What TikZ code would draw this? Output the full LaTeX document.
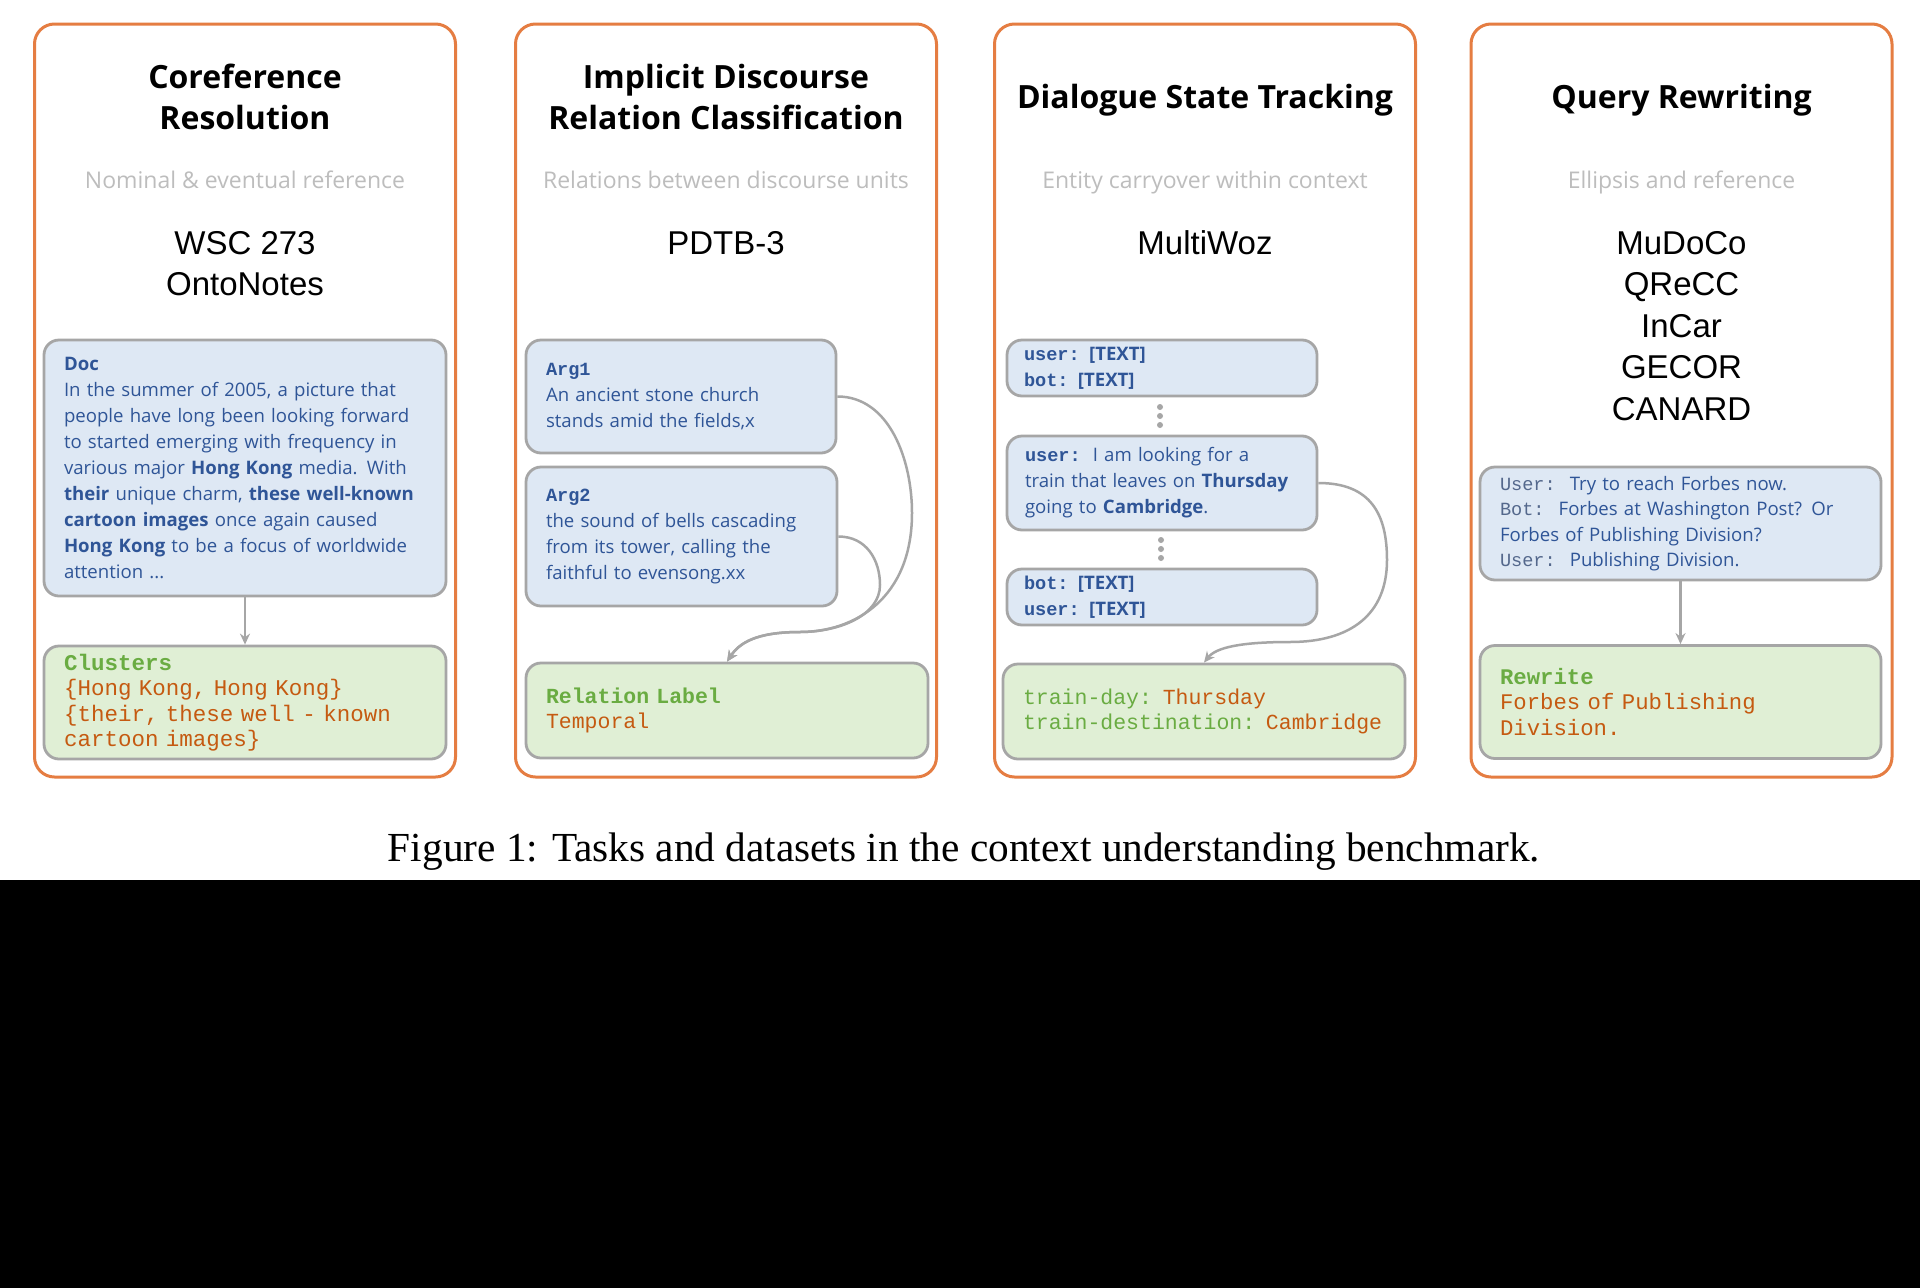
\documentclass[tikz,border=0pt]{standalone}
\usepackage{fontspec}
\IfFontExistsTF{Noto Sans Bold}
    {\setmainfont{Noto Sans}[BoldFont={Noto Sans Bold}]}
    {\IfFontExistsTF{Open Sans Bold}
        {\setmainfont{Open Sans}[BoldFont={Open Sans Bold}]}
        {\setmainfont{Carlito}}}
\setmonofont{Liberation Mono}
\newfontfamily\dsfont{Liberation Sans}
\newfontfamily\capfont{Liberation Serif}
\usetikzlibrary{arrows.meta}

\definecolor{frameorange}{RGB}{229,125,66}
\definecolor{cardline}{RGB}{166,166,166}
\definecolor{inblue}{RGB}{222,232,244}
\definecolor{outgreen}{RGB}{224,239,213}
\definecolor{deepblue}{RGB}{47,85,151}
\definecolor{keygreen}{RGB}{106,172,66}
\definecolor{valorange}{RGB}{197,90,17}
\definecolor{subgray}{RGB}{189,189,189}
\definecolor{spkgray}{RGB}{84,104,140}

\newcommand{\spk}[1]{{\ttfamily\bfseries #1}}

\begin{document}
\begin{tikzpicture}[
        x=1pt, y=-1pt,
        panel/.style={draw=frameorange, line width=3pt, rounded corners=20pt, minimum width=421pt, minimum height=753pt},
        tasktitle/.style={font=\fontsize{32}{41}\selectfont\bfseries, align=center},
        tasksub/.style={font=\fontsize{23}{26}\selectfont, text=subgray, anchor=base},
        dataset/.style={font=\dsfont\fontsize{33}{41.5}\selectfont, align=center},
        card/.style={draw=cardline, line width=2.8pt, rounded corners=15pt, inner xsep=20pt, align=left},
        inbox/.style={card, fill=inblue, text=deepblue, font=\fontsize{18.6}{26}\selectfont},
        outbox/.style={card, fill=outgreen, text=valorange, font=\ttfamily\fontsize{21.5}{25.5}\selectfont},
        link/.style={draw=cardline, line width=2.5pt, -{Stealth[length=11pt,width=10pt]}},
        dot/.style={fill=cardline}
    ]

    % page
    \useasboundingbox (0,0) rectangle (1920,1288);
    \fill[white] (0,0) rectangle (1920,880);
    \fill[black] (0,880) rectangle (1920,1288);

    % Frames
    \foreach \i/\x in {1/245,2/726,3/1205,4/1681.5}
        \node[panel] (p\i) at (\x,400.5) {};

    % Coreference Resolution
    \node[tasktitle] (t1) at (245,97) {Coreference\\Resolution};
    \node[tasksub] (s1) at (245,188) {Nominal \& eventual reference};
    \node[dataset] (d1) at (245,263.5) {WSC 273\\OntoNotes};
    \node[inbox, text width=362pt, minimum height=256pt] (doc) at (245,468) {\textbf{Doc}\\
        In the summer of 2005, a picture that\\
        people have long been looking forward\\
        to started emerging with frequency in\\
        various major \textbf{Hong Kong} media. With\\
        \textbf{their} unique charm, \textbf{these well-known}\\
        \textbf{cartoon images} once again caused\\
        \textbf{Hong Kong} to be a focus of worldwide\\
        attention ...};
    \node[outbox, text width=362pt, minimum height=113pt, font=\ttfamily\fontsize{22.5}{25.5}\selectfont] (clus) at (245,702.5) {\textcolor{keygreen}{\bfseries Clusters}\\
        \{Hong Kong, Hong Kong\}\\
        \{their, these well - known\\
        cartoon images\}};
    \draw[link] (doc.south) -- (clus.north);

    % Implicit Discourse Relation Classification
    \node[tasktitle] (t2) at (726,97) {Implicit Discourse\\Relation Classification};
    \node[tasksub] (s2) at (726,188) {Relations between discourse units};
    \node[dataset] (d2) at (726,243) {PDTB-3};
    \node[inbox, text width=270pt, minimum height=113pt] (a1) at (681,396.5) {\spk{Arg1}\\
        An ancient stone church\\
        stands amid the fields,x};
    \node[inbox, text width=271pt, minimum height=139pt] (a2) at (681.5,536.5) {\spk{Arg2}\\
        the sound of bells cascading\\
        from its tower, calling the\\
        faithful to evensong.xx};
    \node[outbox, text width=362pt, minimum height=95pt] (rel) at (727,710.5) {\textcolor{keygreen}{\bfseries Relation Label}\\
        Temporal};
    \coordinate (b2a) at (912,513);
    \coordinate (b2b) at (880,585);
    \coordinate (j2) at (800,632);
    \draw[link] (a1.east) .. controls +(52,0) and +(0,-53) .. (b2a) .. controls +(0,85) and +(55,0) .. (j2) .. controls +(-45,0) and +(12,-18) .. (rel.north);
    \draw[link] (a2.east) .. controls +(28,0) and +(0,-25) .. (b2b) .. controls +(0,30) and +(40,0) .. (j2) .. controls +(-45,0) and +(12,-18) .. (rel.north);

    % Dialogue State Tracking
    \node[tasktitle, anchor=base] (t3) at (1205,108) {Dialogue State Tracking};
    \node[tasksub] (s3) at (1205,188) {Entity carryover within context};
    \node[dataset] (d3) at (1205,243) {MultiWoz};
    \node[inbox, inner xsep=17pt, text width=276pt, minimum height=56pt] (u1) at (1162,368) {\spk{user: }\textbf{[TEXT]}\\
        \spk{bot: }\textbf{[TEXT]}};
    \node[inbox, inner xsep=18pt, text width=274pt, minimum height=94pt] (u2) at (1162,483) {\spk{user:}\hspace{12pt}I am looking for a\\
        train that leaves on \textbf{Thursday}\\
        going to \textbf{Cambridge}.};
    \node[inbox, inner xsep=17pt, text width=276pt, minimum height=56pt] (u3) at (1162,597) {\spk{bot: }\textbf{[TEXT]}\\
        \spk{user: }\textbf{[TEXT]}};
    \foreach \dy in {-9,0,9} {
        \fill[dot] (1160,416+\dy) circle (3pt);
        \fill[dot] (1161,549+\dy) circle (3pt);
    }
    \node[outbox, text width=362pt, minimum height=95pt, font=\ttfamily\fontsize{21.5}{25.5}\selectfont] (state) at (1204,711.5) {\textcolor{keygreen}{train-day:} Thursday\\
        \textcolor{keygreen}{train-destination:} Cambridge};
    \coordinate (b3) at (1387,560);
    \coordinate (j3) at (1290,642);
    \draw[link] (u2.east) .. controls +(53,0) and +(0,-45) .. (b3) .. controls +(0,55) and +(60,0) .. (j3) .. controls +(-50,0) and +(12,-15) .. (state.north);

    % Query Rewriting
    \node[tasktitle, anchor=base] (t4) at (1681.5,108) {Query Rewriting};
    \node[tasksub] (s4) at (1681.5,188) {Ellipsis and reference};
    \node[dataset] (d4) at (1681.5,326) {MuDoCo\\QReCC\\InCar\\GECOR\\CANARD};
    \node[inbox, text width=361pt, minimum height=113pt, font=\fontsize{18.6}{25.5}\selectfont] (dlg) at (1680.5,523.5) {\textcolor{spkgray}{\ttfamily User:}\hspace{14pt}Try to reach Forbes now.\\
        \textcolor{spkgray}{\ttfamily Bot:}\hspace{14pt}Forbes at Washington Post? Or\\
        Forbes of Publishing Division?\\
        \textcolor{spkgray}{\ttfamily User:}\hspace{14pt}Publishing Division.};
    \node[outbox, text width=361pt, minimum height=113pt, font=\ttfamily\fontsize{22.3}{25.5}\selectfont] (rw) at (1680.5,702) {\textcolor{keygreen}{\bfseries Rewrite}\\
        Forbes of Publishing\\
        Division.};
    \draw[link] (dlg.south) -- (rw.north);

    % caption
    \node[font=\capfont\fontsize{41.3}{46}\selectfont] (cap) at (964,852) {Figure 1: Tasks and datasets in the context understanding benchmark.};

\end{tikzpicture}
\end{document}
